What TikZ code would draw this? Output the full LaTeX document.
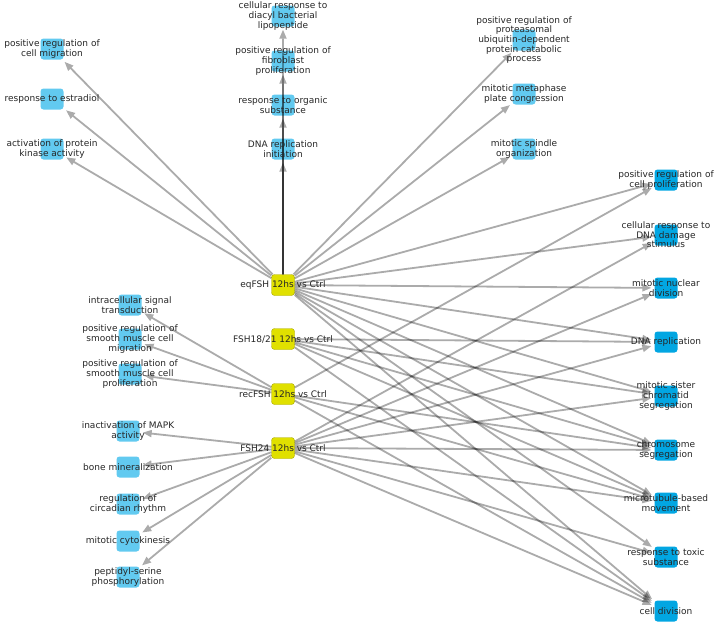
\documentclass[tikz,border=0pt]{standalone}
\usepackage{fontspec}
\setmainfont{DejaVu Sans}
\usetikzlibrary{arrows.meta}
\definecolor{lblue}{RGB}{98,202,240}
\definecolor{dblue}{RGB}{2,166,226}
\definecolor{yel}{RGB}{224,224,0}
\begin{document}
\begin{tikzpicture}[x=1pt,y=-1pt,
 box/.style={rectangle, rounded corners=3pt, minimum width=23pt, minimum height=21pt, inner sep=0pt},
 lb/.style={box, fill=lblue},
 db/.style={box, fill=dblue},
 yb/.style={box, fill=yel, draw=yel!75!black, line width=0.4pt},
 lab/.style={font=\fontsize{9}{9.6}\selectfont, align=center, inner sep=0pt, text=black!85},
 edge/.style={draw=black, line width=1.8pt, -{Triangle[length=9pt,width=7pt]}, shorten >=3pt},
 egroup/.style={transparency group, opacity=0.33},
]
\useasboundingbox (0,0) rectangle (717,624);
% boxes
\node[yb] (S1) at (283,285) {};
\node[yb] (S2) at (283,339) {};
\node[yb] (S3) at (283,394) {};
\node[yb] (S4) at (283,448) {};
\node[lb] (U1) at (283,16) {};
\node[lb] (U2) at (283,61) {};
\node[lb] (U3) at (283,105) {};
\node[lb] (U4) at (283,149) {};
\node[lb] (L1) at (52,49) {};
\node[lb] (L2) at (52,99) {};
\node[lb] (L3) at (52,149) {};
\node[lb] (R1) at (524,40) {};
\node[lb] (R2) at (524,94) {};
\node[lb] (R3) at (524,149) {};
\node[db] (T1) at (666,180) {};
\node[db] (T2) at (666,235) {};
\node[db] (T3) at (666,288) {};
\node[db] (T4) at (666,342) {};
\node[db] (T5) at (666,396) {};
\node[db] (T6) at (666,450) {};
\node[db] (T7) at (666,503) {};
\node[db] (T8) at (666,557) {};
\node[db] (T9) at (666,611) {};
\node[lb] (B1) at (130,305) {};
\node[lb] (B2) at (130,339) {};
\node[lb] (B3) at (130,374) {};
\node[lb] (B4) at (128,431) {};
\node[lb] (B5) at (128,467) {};
\node[lb] (B6) at (128,504) {};
\node[lb] (B7) at (128,541) {};
\node[lb] (B8) at (128,577) {};
% edges
\foreach \t in {L1,L2,L3,U1,U2,U3,U4,R1,R2,R3,T1,T2,T3,T4,T5,T6,T7,T8,T9}
  {\begin{scope}[egroup]\draw[edge] (S1) -- (\t);\end{scope}}
\foreach \t in {T4,T5,T6,T7,T9}
  {\begin{scope}[egroup]\draw[edge] (S2) -- (\t);\end{scope}}
\foreach \t in {B1,B2,B3,T1,T6,T7,T9}
  {\begin{scope}[egroup]\draw[edge] (S3) -- (\t);\end{scope}}
\foreach \t in {B4,B5,B6,B7,B8,T2,T3,T4,T5,T6,T7,T8,T9}
  {\begin{scope}[egroup]\draw[edge] (S4) -- (\t);\end{scope}}
% labels
\node[lab] (tS1) at (S1) {eqFSH 12hs vs Ctrl};
\node[lab] (tS2) at (S2) {FSH18/21 12hs vs Ctrl};
\node[lab] (tS3) at (S3) {recFSH 12hs vs Ctrl};
\node[lab] (tS4) at (S4) {FSH24 12hs vs Ctrl};
\node[lab] (tU1) at (U1) {cellular response to\\diacyl bacterial\\lipopeptide};
\node[lab] (tU2) at (U2) {positive regulation of\\fibroblast\\proliferation};
\node[lab] (tU3) at (U3) {response to organic\\substance};
\node[lab] (tU4) at (U4) {DNA replication\\initiation};
\node[lab] (tL1) at (L1) {positive regulation of\\cell migration};
\node[lab] (tL2) at (L2) {response to estradiol};
\node[lab] (tL3) at (L3) {activation of protein\\kinase activity};
\node[lab] (tR1) at (R1) {positive regulation of\\proteasomal\\ubiquitin-dependent\\protein catabolic\\process};
\node[lab] (tR2) at (R2) {mitotic metaphase\\plate congression};
\node[lab] (tR3) at (R3) {mitotic spindle\\organization};
\node[lab] (tT1) at (T1) {positive regulation of\\cell proliferation};
\node[lab] (tT2) at (T2) {cellular response to\\DNA damage\\stimulus};
\node[lab] (tT3) at (T3) {mitotic nuclear\\division};
\node[lab] (tT4) at (T4) {DNA replication};
\node[lab] (tT5) at (T5) {mitotic sister\\chromatid\\segregation};
\node[lab] (tT6) at (T6) {chromosome\\segregation};
\node[lab] (tT7) at (T7) {microtubule-based\\movement};
\node[lab] (tT8) at (T8) {response to toxic\\substance};
\node[lab] (tT9) at (T9) {cell division};
\node[lab] (tB1) at (B1) {intracellular signal\\transduction};
\node[lab] (tB2) at (B2) {positive regulation of\\smooth muscle cell\\migration};
\node[lab] (tB3) at (B3) {positive regulation of\\smooth muscle cell\\proliferation};
\node[lab] (tB4) at (B4) {inactivation of MAPK\\activity};
\node[lab] (tB5) at (B5) {bone mineralization};
\node[lab] (tB6) at (B6) {regulation of\\circadian rhythm};
\node[lab] (tB7) at (B7) {mitotic cytokinesis};
\node[lab] (tB8) at (B8) {peptidyl-serine\\phosphorylation};
\end{tikzpicture}
\end{document}
